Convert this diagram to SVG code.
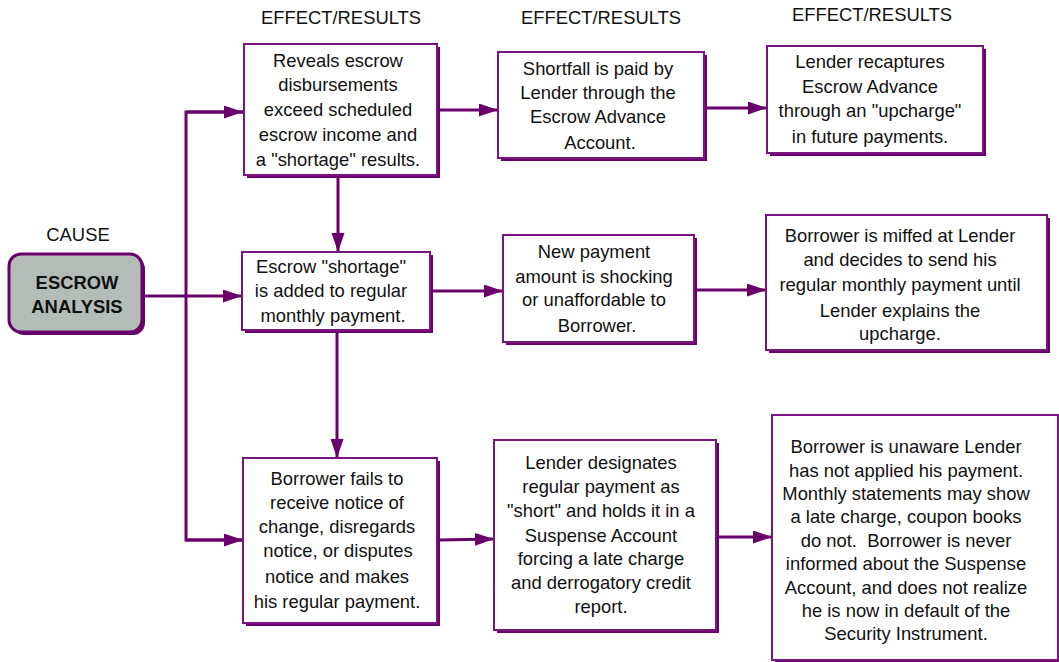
<svg xmlns="http://www.w3.org/2000/svg" width="1059" height="662" viewBox="0 0 1059 662">
<style>
  text { font-family: "Liberation Sans", Arial, sans-serif; font-size: 18.4px; fill: #111; text-anchor: middle; white-space: pre; }
  .hdr { fill: #111; }
  .bold { font-weight: bold; }
  .box { fill: #fff; stroke: #7a1580; stroke-width: 2; }
  .shadow { fill: #6a006c; }
  .conn { stroke: #6a006c; stroke-width: 3; fill: none; }
  .cause { fill: #b4bcb8; stroke: #6a006c; stroke-width: 3; }
</style>
<defs>
  <marker id="arr" markerUnits="userSpaceOnUse" markerWidth="20" markerHeight="14" refX="19" refY="6.5" orient="auto">
    <path d="M0,0 L19,6.5 L0,13 Z" fill="#6a006c"/>
  </marker>
</defs>
<rect width="1059" height="662" fill="#fff"/>

<g id="headers">
  <text x="341" y="24" class="hdr">EFFECT/RESULTS</text>
  <text x="601" y="24" class="hdr">EFFECT/RESULTS</text>
  <text x="872" y="21" class="hdr">EFFECT/RESULTS</text>
  <text x="78" y="241" class="hdr">CAUSE</text>
</g>

<g id="connectors">
  <line class="conn" x1="143" y1="296" x2="242" y2="296" marker-end="url(#arr)"/>
  <polyline class="conn" points="243,112 186,112 186,540 243,540"/>
  <line class="conn" x1="186" y1="112" x2="243" y2="112" marker-end="url(#arr)"/>
  <line class="conn" x1="186" y1="540" x2="243" y2="540" marker-end="url(#arr)"/>
  <line class="conn" x1="338" y1="178" x2="338" y2="252" marker-end="url(#arr)"/>
  <line class="conn" x1="337" y1="333" x2="337" y2="458" marker-end="url(#arr)"/>
  <line class="conn" x1="440" y1="110" x2="498" y2="110" marker-end="url(#arr)"/>
  <line class="conn" x1="707" y1="108" x2="767" y2="108" marker-end="url(#arr)"/>
  <line class="conn" x1="433" y1="291" x2="503" y2="291" marker-end="url(#arr)"/>
  <line class="conn" x1="697" y1="290" x2="766" y2="290" marker-end="url(#arr)"/>
  <line class="conn" x1="439" y1="540" x2="494" y2="539" marker-end="url(#arr)"/>
  <line class="conn" x1="719" y1="537" x2="772" y2="537" marker-end="url(#arr)"/>
</g>

<g id="escrow-analysis">
  <rect x="12" y="257" width="133" height="78" rx="12" class="shadow"/>
  <rect x="9" y="254" width="133" height="78" rx="12" class="cause"/>
  <text x="77" y="289" class="bold">ESCROW</text>
  <text x="77" y="313" class="bold">ANALYSIS</text>
</g>

<g id="reveals">
  <rect x="247" y="47" width="193" height="131" class="shadow"/>
  <rect x="244" y="44" width="193" height="131" class="box"/>
  <text x="338" y="67">Reveals escrow</text>
  <text x="338" y="91">disbursements</text>
  <text x="338" y="116">exceed scheduled</text>
  <text x="338" y="141">escrow income and</text>
  <text x="338" y="166">a "shortage" results.</text>
</g>

<g id="shortfall">
  <rect x="501" y="55" width="206" height="106" class="shadow"/>
  <rect x="498" y="52" width="206" height="106" class="box"/>
  <text x="598" y="75">Shortfall is paid by</text>
  <text x="598" y="99">Lender through the</text>
  <text x="598" y="123">Escrow Advance</text>
  <text x="600" y="149">Account.</text>
</g>

<g id="recaptures">
  <rect x="770" y="49" width="216" height="107" class="shadow"/>
  <rect x="767" y="46" width="216" height="107" class="box"/>
  <text x="870" y="68">Lender recaptures</text>
  <text x="870" y="93">Escrow Advance</text>
  <text x="870" y="117">through an "upcharge"</text>
  <text x="870" y="143">in future payments.</text>
</g>

<g id="shortage-added">
  <rect x="245" y="255" width="188" height="78" class="shadow"/>
  <rect x="242" y="252" width="188" height="78" class="box"/>
  <text x="331" y="273">Escrow "shortage"</text>
  <text x="331" y="297">is added to regular</text>
  <text x="333" y="322">monthly payment.</text>
</g>

<g id="new-payment">
  <rect x="506" y="238" width="191" height="107" class="shadow"/>
  <rect x="503" y="235" width="191" height="107" class="box"/>
  <text x="594" y="258">New payment</text>
  <text x="594" y="283">amount is shocking</text>
  <text x="594" y="306">or unaffordable to</text>
  <text x="597" y="332">Borrower.</text>
</g>

<g id="miffed">
  <rect x="769" y="218" width="281" height="135" class="shadow"/>
  <rect x="766" y="215" width="281" height="135" class="box"/>
  <text x="900" y="242">Borrower is miffed at Lender</text>
  <text x="900" y="266">and decides to send his</text>
  <text x="900" y="291">regular monthly payment until</text>
  <text x="900" y="317">Lender explains the</text>
  <text x="900" y="340">upcharge.</text>
</g>

<g id="fails-notice">
  <rect x="246" y="461" width="194" height="165" class="shadow"/>
  <rect x="243" y="458" width="194" height="165" class="box"/>
  <text x="337" y="485">Borrower fails to</text>
  <text x="337" y="509">receive notice of</text>
  <text x="337" y="533">change, disregards</text>
  <text x="338" y="557">notice, or disputes</text>
  <text x="337" y="583">notice and makes</text>
  <text x="337" y="608">his regular payment.</text>
</g>

<g id="suspense">
  <rect x="497" y="443" width="222" height="190" class="shadow"/>
  <rect x="494" y="440" width="222" height="190" class="box"/>
  <text x="601" y="469">Lender designates</text>
  <text x="601" y="493">regular payment as</text>
  <text x="601" y="517">"short" and holds it in a</text>
  <text x="601" y="542">Suspense Account</text>
  <text x="601" y="565">forcing a late charge</text>
  <text x="601" y="589">and derrogatory credit</text>
  <text x="601" y="613">report.</text>
</g>

<g id="unaware">
  <rect x="775" y="418" width="286" height="245" class="shadow"/>
  <rect x="772" y="415" width="286" height="245" class="box"/>
  <text x="906" y="453">Borrower is unaware Lender</text>
  <text x="906" y="477">has not applied his payment.</text>
  <text x="906" y="500">Monthly statements may show</text>
  <text x="906" y="523">a late charge, coupon books</text>
  <text x="906" y="547">do not.  Borrower is never</text>
  <text x="906" y="570">informed about the Suspense</text>
  <text x="906" y="594">Account, and does not realize</text>
  <text x="906" y="617">he is now in default of the</text>
  <text x="906" y="640">Security Instrument.</text>
</g>
</svg>
